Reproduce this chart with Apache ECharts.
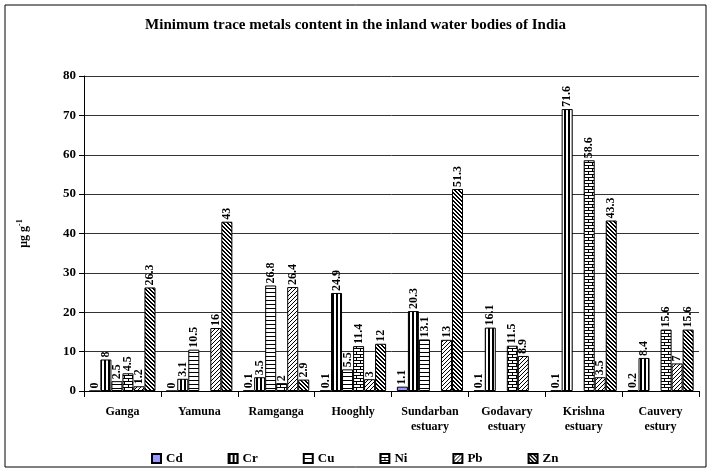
<!DOCTYPE html>
<html>
<head>
<meta charset="utf-8">
<script src="https://cdn.jsdelivr.net/npm/echarts@6/dist/echarts.min.js"></script>
<style>
  html, body { margin: 0; padding: 0; background: #fff; }
  #chart { width: 711px; height: 472px; }
</style>
</head>
<body>
<div id="chart"></div>
<script>
// data
const categories = ['Ganga', 'Yamuna', 'Ramganga', 'Hooghly', 'Sundarban\nestuary', 'Godavary\nestuary', 'Krishna\nestuary', 'Cauvery\nestury']
const seriesNames = ['Cd', 'Cr', 'Cu', 'Ni', 'Pb', 'Zn']
const cd = [0, 0, 0.1, 0.1, 1.1, 0.1, 0.1, 0.2]
const cr = [8, 3.1, 3.5, 24.9, 20.3, 16.1, 71.6, 8.4]
const cu = [2.5, 10.5, 26.8, 5.5, 13.1, null, null, null]
const ni = [4.5, null, 2, 11.4, null, 11.5, 58.6, 15.6]
const pb = [1.2, 16, 26.4, 3, 13, 8.9, 3.5, 7]
const zn = [26.3, 43, 2.9, 12, 51.3, null, 43.3, 15.6]
const yTicks = [0, 10, 20, 30, 40, 50, 60, 70, 80]

const FONT = '"Liberation Serif", "Times New Roman", serif'

// little canvas tiles for the fill patterns
function makePattern(kind) {
  const c = document.createElement('canvas')
  let w = 4, h = 4
  if (kind === 'brick') { w = 8; h = 6 }
  c.width = w
  c.height = h
  const ctx = c.getContext('2d')
  ctx.fillStyle = '#fff'
  ctx.fillRect(0, 0, w, h)
  ctx.fillStyle = '#000'
  if (kind === 'vert') {
    ctx.fillRect(0, 0, 2, h)
  } else if (kind === 'horiz') {
    ctx.fillRect(0, 0, w, 1)
  } else if (kind === 'brick') {
    ctx.fillRect(0, 0, w, 1)
    ctx.fillRect(0, 3, w, 1)
    ctx.fillRect(0, 0, 1, 3)
    ctx.fillRect(4, 3, 1, 3)
  } else if (kind === 'up') {
    for (let i = 0; i < w; i++) ctx.fillRect(i, h - 1 - i, 1, 1)
  } else if (kind === 'down') {
    for (let i = 0; i < w; i++) {
      ctx.fillRect(i, i, 1, 1)
      ctx.fillRect((i + 1) % w, i, 1, 1)
    }
  }
  return { image: c, repeat: 'repeat' }
}

const fills = [
  '#9999ff',
  makePattern('vert'),
  makePattern('horiz'),
  makePattern('brick'),
  makePattern('up'),
  makePattern('down')
]
const values = [cd, cr, cu, ni, pb, zn]

const chart = echarts.init(document.getElementById('chart'))

const option = {
  animation: false,
  backgroundColor: '#fff',
  title: {
    text: 'Minimum trace metals content in the inland water bodies of India',
    left: 'center',
    top: 13,
    textStyle: { fontFamily: FONT, fontSize: 15, fontWeight: 'bold', color: '#000' }
  },
  legend: {
    bottom: 2,
    left: 146,
    itemGap: 45,
    itemWidth: 9,
    itemHeight: 9,
    icon: 'rect',
    textStyle: { fontFamily: FONT, fontSize: 13, fontWeight: 'bold', color: '#000' },
    data: seriesNames
  },
  grid: {
    left: 84,
    right: 12,
    top: 76,
    bottom: 81
  },
  xAxis: {
    type: 'category',
    data: categories,
    axisLine: { lineStyle: { color: '#000', width: 1 } },
    axisTick: { show: true, length: 6, lineStyle: { color: '#000' } },
    axisLabel: {
      fontFamily: FONT,
      fontSize: 12,
      fontWeight: 'bold',
      color: '#000',
      margin: 13,
      lineHeight: 15
    }
  },
  yAxis: {
    type: 'value',
    min: yTicks[0],
    max: yTicks[yTicks.length - 1],
    interval: 10,
    name: '{a|μg g}{b|-1}',
    nameLocation: 'middle',
    nameRotate: 90,
    nameGap: 52,
    nameTextStyle: {
      rich: {
        a: { fontFamily: FONT, fontSize: 12, fontWeight: 'bold', color: '#000' },
        b: { fontFamily: FONT, fontSize: 8, fontWeight: 'bold', color: '#000', padding: [0, 0, 8, 0] }
      }
    },
    axisLine: { show: true, lineStyle: { color: '#000' } },
    axisTick: { show: true, length: 5, lineStyle: { color: '#000' } },
    axisLabel: { fontFamily: FONT, fontSize: 13, fontWeight: 'bold', color: '#000', margin: 8 },
    splitLine: { lineStyle: { color: '#333', width: 1 } }
  },
  series: seriesNames.map((name, i) => ({
    name: name,
    type: 'bar',
    data: values[i],
    barGap: '0%',
    barCategoryGap: '14%',
    itemStyle: { color: fills[i], borderColor: '#000', borderWidth: 1 },
    label: {
      show: true,
      position: 'top',
      rotate: 90,
      align: 'left',
      verticalAlign: 'middle',
      distance: 2,
      fontFamily: FONT,
      fontSize: 12,
      fontWeight: 'bold',
      color: '#000'
    }
  })),
  graphic: [
    {
      type: 'rect',
      shape: { x: 5, y: 5, width: 701, height: 462 },
      style: { fill: null, stroke: '#000', lineWidth: 1 },
      silent: true,
      z: -1
    }
  ]
}

chart.setOption(option)
</script>
</body>
</html>
